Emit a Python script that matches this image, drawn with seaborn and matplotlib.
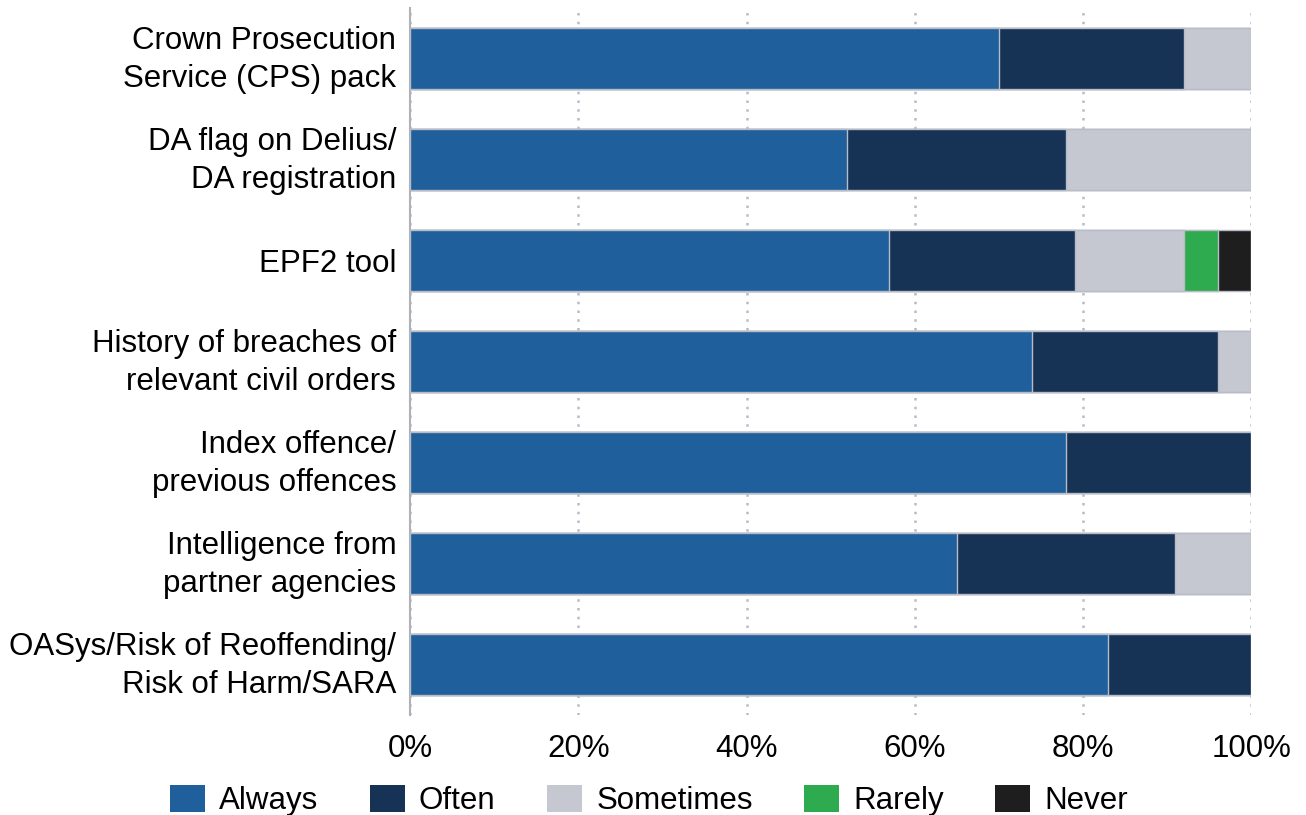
import matplotlib
matplotlib.use("Agg")
import matplotlib.pyplot as plt
import matplotlib.transforms as mtransforms
from matplotlib.patches import Patch
import numpy as np
import pandas as pd
import seaborn as sns

categories = [
    "Crown Prosecution\nService (CPS) pack",
    "DA flag on Delius/\nDA registration",
    "EPF2 tool",
    "History of breaches of\nrelevant civil orders",
    "Index offence/\nprevious offences",
    "Intelligence from\npartner agencies",
    "OASys/Risk of Reoffending/\nRisk of Harm/SARA",
]
always = [70, 52, 57, 74, 78, 65, 83]
often = [22, 26, 22, 22, 22, 26, 17]
sometimes = [8, 22, 13, 4, 0, 9, 0]
rarely = [0, 0, 4, 0, 0, 0, 0]
never = [0, 0, 4, 0, 0, 0, 0]
tick_labels = ["0%", "20%", "40%", "60%", "80%", "100%"]

series_names = ["Always", "Often", "Sometimes", "Rarely", "Never"]
series_values = [always, often, sometimes, rarely, never]
colors = ["#1F5F9B", "#163356", "#C5C8D1", "#2EAA4F", "#1E1E1E"]

sns.set_theme(style="white")
plt.rcParams["font.family"] = ["Liberation Sans", "DejaVu Sans"]
plt.rcParams["text.color"] = "black"
plt.rcParams["xtick.color"] = "black"
plt.rcParams["ytick.color"] = "black"

FS = 22.5

df = pd.DataFrame({"category": categories})
cum = np.zeros(len(categories))
for name, vals in zip(series_names, series_values):
    cum = cum + np.array(vals, dtype=float)
    df[name] = cum

fig = plt.figure(figsize=(13.06, 8.15), dpi=100)
ax = fig.add_axes([0.314, 0.123, 0.644, 0.867])

# stacked bars: draw cumulative totals from the outermost segment inward
for name, color in reversed(list(zip(series_names, colors))):
    sns.barplot(data=df, x=name, y="category", order=categories, orient="h",
                color=color, width=0.6, edgecolor="#B8BCC6", linewidth=1.0,
                saturation=1, ax=ax, zorder=3)

ax.set_xlim(0, 100)
ax.set_ylim(6.5, -0.5)
ax.set_xticks(np.arange(0, 101, 20))
ax.set_xticklabels(tick_labels, fontsize=FS)
ax.tick_params(axis="x", length=0, pad=14, colors="black")
ax.tick_params(axis="y", length=0, pad=10, labelsize=FS, colors="black")
lift = mtransforms.ScaledTranslation(0, 0.06, fig.dpi_scale_trans)
for lbl in ax.get_yticklabels():
    lbl.set_horizontalalignment("right")
    lbl.set_multialignment("right")
    lbl.set_linespacing(1.35)
    if "\n" in lbl.get_text():
        lbl.set_transform(lbl.get_transform() + lift)
ax.set_xlabel("")
ax.set_ylabel("")

ax.grid(axis="x", color="#B8BCC6", linestyle=(0, (1, 2.5)), linewidth=1.8, zorder=0)
ax.grid(axis="y", visible=False)
for side in ["top", "right", "bottom"]:
    ax.spines[side].set_visible(False)
ax.spines["left"].set_color("#B0B0B8")
ax.spines["left"].set_linewidth(1.5)

handles = [Patch(facecolor=c, edgecolor="none", label=n) for n, c in zip(series_names, colors)]
fig.legend(handles=handles, loc="lower center", bbox_to_anchor=(0.497, -0.036), ncol=5,
           frameon=False, fontsize=FS, handlelength=1.12, handleheight=1.0,
           handletextpad=0.45, columnspacing=1.65)

fig.savefig("out.png", dpi=100)
